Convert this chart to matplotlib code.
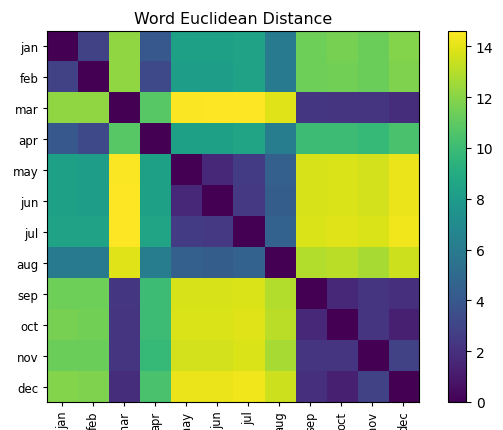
import numpy as np
import matplotlib
matplotlib.use("Agg")
import matplotlib.pyplot as plt

months = ["jan", "feb", "mar", "apr", "may", "jun",
          "jul", "aug", "sep", "oct", "nov", "dec"]

# distances (symmetric)
row_jan = [0.0, 2.8, 12.2, 4.0, 8.3, 8.3, 8.4, 6.0, 11.4, 11.6, 11.3, 11.9]
row_feb = [2.8, 0.0, 12.2, 3.2, 8.2, 8.2, 8.4, 6.1, 11.4, 11.5, 11.3, 11.8]
row_mar = [12.2, 12.2, 0.0, 10.8, 14.5, 14.6, 14.6, 13.9, 2.3, 2.2, 2.2, 1.9]
row_apr = [4.0, 3.2, 10.8, 0.0, 8.3, 8.3, 8.5, 6.2, 10.0, 10.0, 9.8, 10.4]
row_may = [8.3, 8.2, 14.5, 8.3, 0.0, 1.7, 2.6, 4.5, 13.7, 13.8, 13.6, 14.2]
row_jun = [8.3, 8.2, 14.6, 8.3, 1.7, 0.0, 2.4, 4.3, 13.7, 13.8, 13.6, 14.2]
row_jul = [8.4, 8.4, 14.6, 8.5, 2.6, 2.4, 0.0, 4.6, 13.8, 13.9, 13.8, 14.3]
row_aug = [6.0, 6.1, 13.9, 6.2, 4.5, 4.3, 4.6, 0.0, 12.9, 13.1, 12.7, 13.5]
row_sep = [11.4, 11.4, 2.3, 10.0, 13.7, 13.7, 13.8, 12.9, 0.0, 1.6, 2.2, 2.0]
row_oct = [11.6, 11.5, 2.2, 10.0, 13.8, 13.8, 13.9, 13.1, 1.6, 0.0, 2.2, 1.3]
row_nov = [11.3, 11.3, 2.2, 9.8, 13.6, 13.6, 13.8, 12.7, 2.2, 2.2, 0.0, 2.8]
row_dec = [11.9, 11.8, 1.9, 10.4, 14.2, 14.2, 14.3, 13.5, 2.0, 1.3, 2.8, 0.0]

dist = np.array([row_jan, row_feb, row_mar, row_apr, row_may, row_jun,
                 row_jul, row_aug, row_sep, row_oct, row_nov, row_dec])

fig = plt.figure(figsize=(5.03, 4.31), dpi=100)
ax = fig.add_axes([0.0934, 0.065, 0.7396, 0.8608])
cax = fig.add_axes([0.8907, 0.065, 0.0358, 0.8608])

im = ax.imshow(dist, cmap="viridis", aspect="auto")
ax.set_title("Word Euclidean Distance", fontsize=11.4)

# tick labels
ax.set_xticks(range(len(months)))
ax.set_xticklabels(months, rotation=90, fontsize=8.3)
ax.set_yticks(range(len(months)))
ax.set_yticklabels(months, fontsize=8.5)
ax.tick_params(axis="both", length=3.2, pad=3)

fig.colorbar(im, cax=cax)

fig.savefig("out.png", dpi=100)
